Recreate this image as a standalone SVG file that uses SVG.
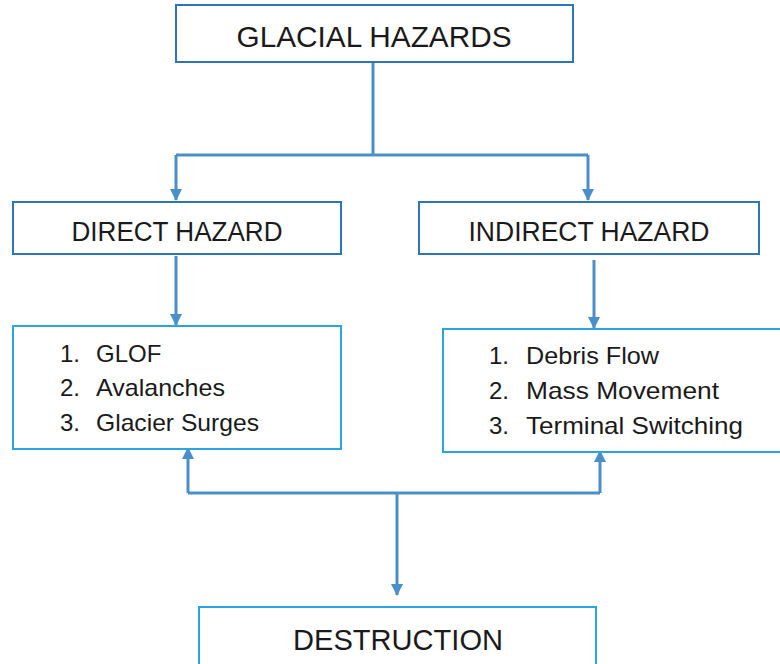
<svg xmlns="http://www.w3.org/2000/svg" width="780" height="664" viewBox="0 0 780 664">
  <style>
    .hdr { fill: #ffffff; stroke: #2E75B6; stroke-width: 2; }
    .lst { fill: #ffffff; stroke: #29A6DE; stroke-width: 2; }
    text { font-family: "Liberation Sans", Arial, sans-serif; fill: #1a1a1a; }
    .big { font-size: 30px; text-anchor: middle; }
    .mid { font-size: 27px; text-anchor: middle; }
    .item { font-size: 24px; }
    .conn { fill: none; stroke: #4A8FCA; stroke-width: 3; }
  </style>
  <defs>
    <marker id="arrow" viewBox="0 0 12 12" refX="11" refY="6" markerWidth="12" markerHeight="12" markerUnits="userSpaceOnUse" orient="auto">
      <path d="M0,0 L12,6 L0,12 Z" fill="#4A8FCA"/>
    </marker>
  </defs>

  <!-- connectors -->
  <g id="connectors">
    <path class="conn" d="M373,62 V155"/>
    <path class="conn" d="M176,155 H588"/>
    <path class="conn" d="M176,155 V200" marker-end="url(#arrow)"/>
    <path class="conn" d="M588,155 V200" marker-end="url(#arrow)"/>
    <path class="conn" d="M176,256 V325" marker-end="url(#arrow)"/>
    <path class="conn" d="M594,260 V328" marker-end="url(#arrow)"/>
    <path class="conn" d="M188,493 H600"/>
    <path class="conn" d="M188,493 V448" marker-end="url(#arrow)"/>
    <path class="conn" d="M600,493 V451" marker-end="url(#arrow)"/>
    <path class="conn" d="M397,493 V595" marker-end="url(#arrow)"/>
  </g>

  <!-- top node -->
  <g id="glacial-hazards">
    <rect class="hdr" x="176" y="5" width="397" height="57"/>
    <text class="big" x="374" y="47" textLength="275" lengthAdjust="spacingAndGlyphs">GLACIAL HAZARDS</text>
  </g>

  <g id="direct-hazard">
    <rect class="hdr" x="13" y="202" width="328" height="52"/>
    <text class="mid" x="177" y="241" textLength="211" lengthAdjust="spacingAndGlyphs">DIRECT HAZARD</text>
  </g>

  <g id="indirect-hazard">
    <rect class="hdr" x="419" y="202" width="340" height="52"/>
    <text class="mid" x="589" y="241" textLength="241" lengthAdjust="spacingAndGlyphs">INDIRECT HAZARD</text>
  </g>

  <g id="direct-list">
    <rect class="lst" x="13" y="326" width="328" height="123"/>
    <text class="item" x="60" y="362">1.</text>
    <text class="item" x="96" y="362">GLOF</text>
    <text class="item" x="60" y="396">2.</text>
    <text class="item" x="96" y="396" textLength="129" lengthAdjust="spacingAndGlyphs">Avalanches</text>
    <text class="item" x="60" y="431">3.</text>
    <text class="item" x="96" y="431" textLength="163" lengthAdjust="spacingAndGlyphs">Glacier Surges</text>
  </g>

  <g id="indirect-list">
    <rect class="lst" x="443" y="329" width="340" height="123"/>
    <text class="item" x="489" y="364">1.</text>
    <text class="item" x="526" y="364" textLength="133" lengthAdjust="spacingAndGlyphs">Debris Flow</text>
    <text class="item" x="489" y="399">2.</text>
    <text class="item" x="526" y="399" textLength="193" lengthAdjust="spacingAndGlyphs">Mass Movement</text>
    <text class="item" x="489" y="434">3.</text>
    <text class="item" x="526" y="434" textLength="217" lengthAdjust="spacingAndGlyphs">Terminal Switching</text>
  </g>

  <g id="destruction">
    <rect class="lst" x="199" y="607" width="397" height="70"/>
    <text class="big" x="398" y="650" textLength="210" lengthAdjust="spacingAndGlyphs">DESTRUCTION</text>
  </g>
</svg>
